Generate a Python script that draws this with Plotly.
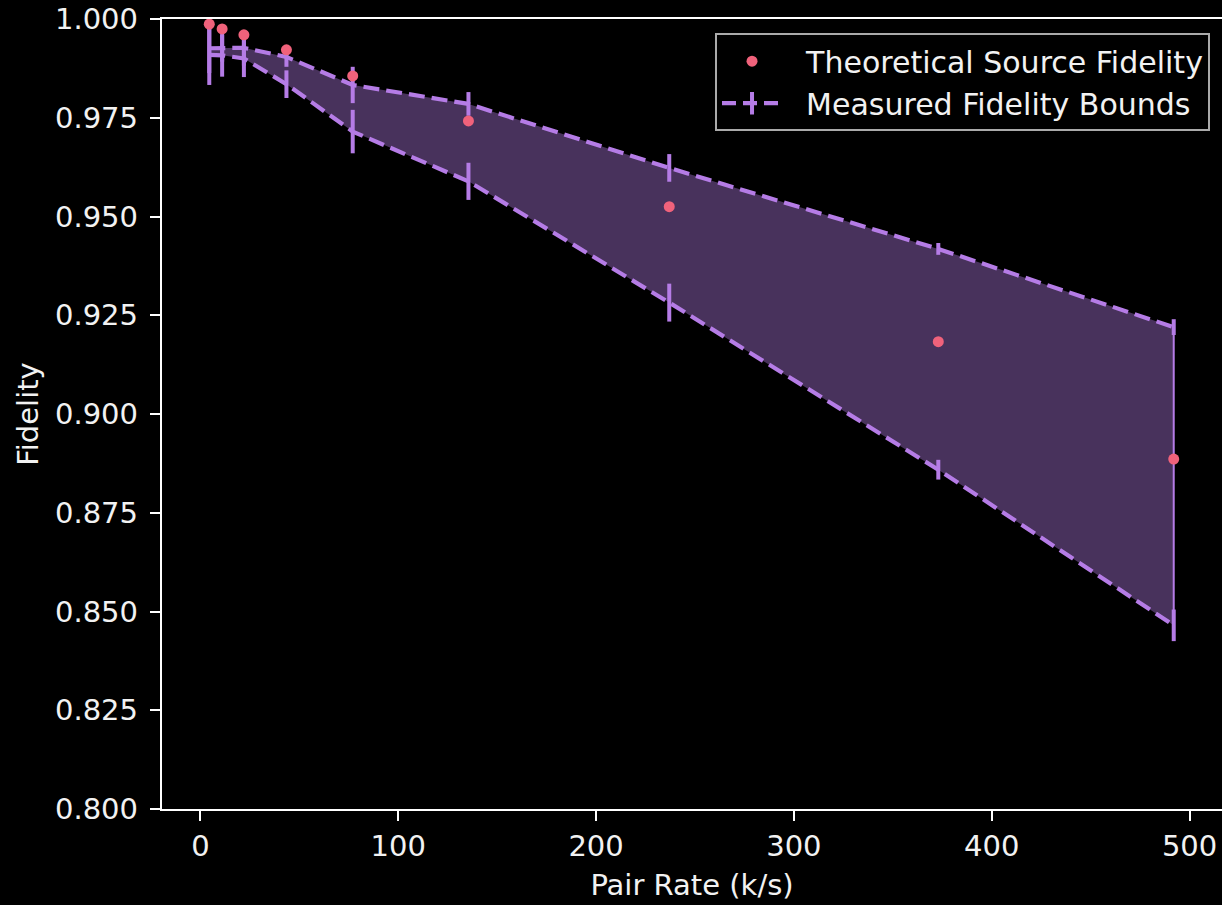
import plotly.graph_objects as go

# ---- data ----
pair_rate = [4.5, 11, 22, 43.5, 77, 135.5, 237, 373, 492]
theoretical = [0.9987, 0.9975, 0.9960, 0.9922, 0.9856, 0.9742, 0.9525, 0.9183, 0.8886]
upper_bound = [0.9926, 0.9926, 0.9927, 0.9904, 0.9833, 0.9785, 0.9623, 0.9418, 0.9220]
upper_err = [0.0063, 0.0034, 0.0045, 0.0025, 0.0046, 0.0030, 0.0035, 0.0015, 0.0020]
lower_bound = [0.9909, 0.9908, 0.9900, 0.9835, 0.9715, 0.9589, 0.9282, 0.8859, 0.8465]
lower_err = [0.0076, 0.0054, 0.0047, 0.0035, 0.0055, 0.0047, 0.0048, 0.0025, 0.0040]

y_ticks = [0.800, 0.825, 0.850, 0.875, 0.900, 0.925, 0.950, 0.975, 1.000]
x_ticks = [0, 100, 200, 300, 400, 500]

PURPLE = "#b57ce6"
FILL = "rgba(181,124,230,0.40)"
PINK = "#f0627b"
FONT = "DejaVu Sans"
TXT = "#f2f2f2"
FS = 29
FS_LEG = 30

fig = go.Figure()

# shaded band between bounds
fig.add_trace(go.Scatter(
    x=pair_rate + pair_rate[::-1],
    y=upper_bound + lower_bound[::-1],
    fill="toself", fillcolor=FILL, mode="lines",
    line=dict(width=0), hoverinfo="skip", showlegend=False))

# band end edges
for i in (0, -1):
    fig.add_trace(go.Scatter(
        x=[pair_rate[i], pair_rate[i]], y=[lower_bound[i], upper_bound[i]],
        mode="lines", line=dict(color=PURPLE, width=2),
        hoverinfo="skip", showlegend=False))

# bounds with error bars
for yy, ee in ((upper_bound, upper_err), (lower_bound, lower_err)):
    fig.add_trace(go.Scatter(
        x=pair_rate, y=yy, mode="lines",
        line=dict(color=PURPLE, width=4.2, dash="16px,7px"),
        error_y=dict(type="data", array=ee, visible=True, color=PURPLE,
                     thickness=4, width=0),
        showlegend=False))

NB = "\u00a0\u00a0"

# theoretical points
fig.add_trace(go.Scatter(
    x=pair_rate, y=theoretical, mode="markers",
    marker=dict(color=PINK, size=11),
    name=NB + "Theoretical Source Fidelity", legendrank=1, legendgroup="a"))

# legend proxy for measured bounds
fig.add_trace(go.Scatter(
    x=[None], y=[None], mode="lines+markers",
    line=dict(color=PURPLE, width=4.2, dash="14px,7px"),
    marker=dict(symbol="line-ns-open", size=26, line=dict(color=PURPLE, width=4)),
    name=NB + "Measured Fidelity Bounds", legendrank=2, legendgroup="b"))

axis_common = dict(
    showline=True, linecolor="#ffffff", linewidth=2.4,
    ticks="outside", ticklen=10, tickwidth=2.4, tickcolor="#ffffff",
    showgrid=False, zeroline=False,
    tickfont=dict(family=FONT, size=FS, color=TXT),
)

fig.update_layout(
    width=1222, height=905,
    paper_bgcolor="#000000", plot_bgcolor="#000000",
    margin=dict(l=162, r=0, t=19, b=96),
    font=dict(family=FONT, size=FS, color=TXT),
    xaxis=dict(range=[-19.4, 516.4], tickvals=x_ticks, mirror=True, ticklabelstandoff=0,
               title=dict(text="Pair Rate (k/s)", font=dict(family=FONT, size=FS, color=TXT), standoff=13),
               **axis_common),
    yaxis=dict(range=[0.8, 1.0], tickvals=y_ticks, tickformat=".3f", mirror=False, ticklabelstandoff=6,
               title=dict(text="Fidelity", font=dict(family=FONT, size=FS, color=TXT), standoff=8),
               **axis_common),
    legend=dict(x=0.9887, y=0.982, xanchor="right", yanchor="top",
                bgcolor="#000000", bordercolor="#aaaaaa", borderwidth=2,
                font=dict(family=FONT, size=FS_LEG, color=TXT),
                itemwidth=60, traceorder="normal", tracegroupgap=9),
    showlegend=True,
)

fig.write_html("out.html", config={"displayModeBar": False},
               post_script="document.body.style.margin='0';document.body.style.background='#000';document.body.style.overflow='hidden';")
